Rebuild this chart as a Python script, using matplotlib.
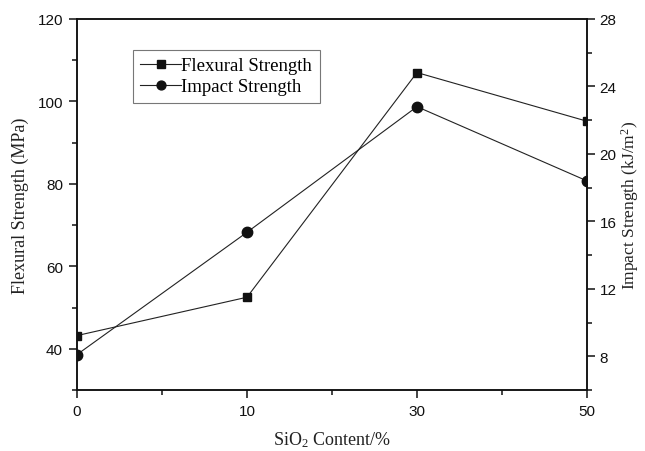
import matplotlib
matplotlib.use("Agg")
import matplotlib.pyplot as plt
from matplotlib.ticker import MultipleLocator, FixedLocator

plt.rcParams['mathtext.fontset'] = 'custom'
plt.rcParams['mathtext.rm'] = 'Liberation Serif'
plt.rcParams['mathtext.it'] = 'Liberation Serif:italic'

categories = ["0", "10", "30", "50"]
flexural = [43.2, 52.5, 107.0, 95.2]
impact = [8.1, 15.35, 22.8, 18.4]

serif = "Liberation Serif"
sans = "Liberation Sans"

fig = plt.figure(figsize=(6.45, 4.52), dpi=100)
ax = fig.add_axes([0.1194, 0.135, 0.7906, 0.8208])
ax2 = ax.twinx()

x = list(range(len(categories)))
l1, = ax.plot(x, flexural, color='#222222', lw=0.8, marker='s', ms=6,
              mfc='#111111', mec='#111111', label='Flexural Strength')
l2, = ax2.plot(x, impact, color='#222222', lw=0.8, marker='o', ms=7.5,
               mfc='#111111', mec='#111111', label='Impact Strength')

ax.set_xlim(0, len(categories) - 1)
ax.set_ylim(30, 120)
ax2.set_ylim(6, 28)

ax.set_xticks(x)
ax.set_xticklabels(categories, fontfamily=sans, fontsize=11)
ax.xaxis.set_minor_locator(FixedLocator([0.5, 1.5, 2.5]))
ax.yaxis.set_minor_locator(MultipleLocator(10))
ax2.yaxis.set_minor_locator(MultipleLocator(2))
ax.set_yticks([40, 60, 80, 100, 120])
ax2.set_yticks([8, 12, 16, 20, 24, 28])

for a in (ax, ax2):
    for lab in a.get_yticklabels():
        lab.set_fontfamily(sans)
        lab.set_fontsize(11)
    for sp in a.spines.values():
        sp.set_linewidth(1.1)
        sp.set_color('#111111')

ax.tick_params(axis='both', which='major', direction='out', length=6, width=1.1, colors='#111111', pad=4)
ax.tick_params(axis='both', which='minor', direction='out', length=3.5, width=1.1, colors='#111111')
ax.tick_params(axis='x', which='both', top=False)
ax2.tick_params(axis='y', which='major', direction='out', length=6, width=1.1, colors='#111111', pad=3)
ax2.tick_params(axis='y', which='minor', direction='out', length=3.5, width=1.1, colors='#111111')

ax.set_xlabel("SiO$_2$ Content/%", fontfamily=serif, fontsize=13, labelpad=8, color='#222222')
ax.set_ylabel("Flexural Strength (MPa)", fontfamily=serif, fontsize=13, labelpad=6, color='#222222')
ax2.set_ylabel("Impact Strength (kJ/m$^2$)", fontfamily=serif, fontsize=12.5, labelpad=2, color='#222222')

leg = ax.legend(handles=[l1, l2], loc='upper left', bbox_to_anchor=(0.109, 0.917),
                prop={'family': serif, 'size': 13.5}, frameon=True, fancybox=False,
                handlelength=2.2, handletextpad=0.0, borderpad=0.4, labelspacing=0.2,
                borderaxespad=0, markerscale=0.85)
leg.get_frame().set_edgecolor('#555555')
leg.get_frame().set_linewidth(0.8)

fig.savefig("out.png", dpi=100)
